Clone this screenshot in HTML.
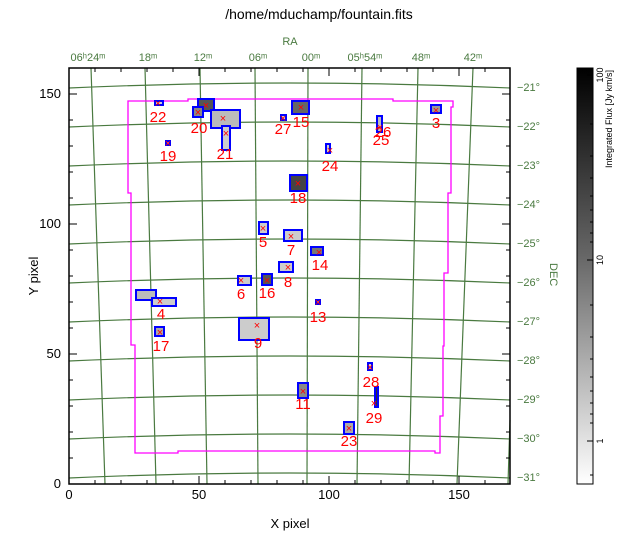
<!DOCTYPE html>
<html><head><meta charset="utf-8"><style>
body{margin:0;background:#fff;}
svg text{font-family:"Liberation Sans",sans-serif;}
</style></head><body>
<svg width="639" height="553" viewBox="0 0 639 553" xmlns="http://www.w3.org/2000/svg">
<defs>
<linearGradient id="cb" x1="0" y1="0" x2="0" y2="1">
<stop offset="0" stop-color="#000"/><stop offset="0.45" stop-color="#666"/><stop offset="1" stop-color="#fff"/>
</linearGradient>
</defs>
<rect width="639" height="553" fill="#fff"/>
<text x="319" y="19" font-size="14" text-anchor="middle">/home/mduchamp/fountain.fits</text>
<text x="290" y="45" font-size="11" fill="#4a7a40" text-anchor="middle">RA</text>
<g fill="#4a7a40" font-size="11" text-anchor="middle">
<text x="88" y="61">06ʰ24ᵐ</text><text x="148" y="61">18ᵐ</text><text x="203" y="61">12ᵐ</text><text x="258" y="61">06ᵐ</text><text x="311" y="61">00ᵐ</text><text x="365" y="61">05ʰ54ᵐ</text><text x="421" y="61">48ᵐ</text><text x="473" y="61">42ᵐ</text>
</g>
<g fill="#4a7a40" font-size="11">
<text x="517" y="91">−21°</text><text x="517" y="130">−22°</text><text x="517" y="169">−23°</text><text x="517" y="208">−24°</text><text x="517" y="247">−25°</text><text x="517" y="286">−26°</text><text x="517" y="325">−27°</text><text x="517" y="364">−28°</text><text x="517" y="403">−29°</text><text x="517" y="442">−30°</text><text x="517" y="481">−31°</text>
</g>
<text font-size="11" fill="#4a7a40" transform="translate(550,263) rotate(90)">DEC</text>
<g stroke="#4a7a40" stroke-width="1.2" fill="none">
<path d="M69 88 Q290 78 510 88"/><path d="M69 127 Q290 117 510 127"/><path d="M69 166 Q290 156 510 166"/><path d="M69 205 Q290 195 510 205"/><path d="M69 244 Q290 234 510 244"/><path d="M69 283 Q290 273 510 283"/><path d="M69 322 Q290 312 510 322"/><path d="M69 361 Q290 351 510 361"/><path d="M69 400 Q290 390 510 400"/><path d="M69 439 Q290 429 510 439"/><path d="M69 478 Q290 468 510 478"/>
<path d="M91 68 L105 484"/><path d="M145 68 L156 484"/><path d="M200 68 L207 484"/><path d="M255 68 L258 484"/><path d="M308 68 L307 484"/><path d="M362 68 L357 484"/><path d="M418 68 L409 484"/><path d="M473 68 L457 484"/><path d="M510 420 L508 484"/>
</g>
<path d="M128 101 L188 101 L188 99 L393 99 L393 101 L453 101 L453 107 L451 107 L451 193 L448 193 L448 273 L444 273 L444 346 L443 346 L443 416 L440 416 L440 453 L435 453 L435 451 L178 451 L178 453 L135 453 L135 345 L131 345 L131 193 L128 193 Z" fill="none" stroke="#f0f" stroke-width="1.3"/>
<g stroke="#00f" stroke-width="2">
<rect x="155" y="101" width="8" height="4" fill="#ccc"/>
<rect x="198" y="99" width="16" height="12" fill="#555"/>
<rect x="193" y="107" width="10" height="10" fill="#888"/>
<rect x="211" y="110" width="29" height="18" fill="#bbb"/>
<rect x="222" y="126" width="8" height="24" fill="#ccc"/>
<rect x="166" y="141" width="4" height="4" fill="#ccc"/>
<rect x="281" y="115" width="5" height="5" fill="#ccc"/>
<rect x="292" y="101" width="17" height="13" fill="#666"/>
<rect x="326" y="144" width="4" height="9" fill="#ccc"/>
<rect x="290" y="175" width="17" height="16" fill="#444"/>
<rect x="377" y="116" width="5" height="16" fill="#bbb"/>
<rect x="431" y="105" width="10" height="8" fill="#999"/>
<rect x="259" y="222" width="9" height="12" fill="#ccc"/>
<rect x="284" y="230" width="18" height="11" fill="#ccc"/>
<rect x="311" y="247" width="12" height="8" fill="#777"/>
<rect x="279" y="262" width="14" height="10" fill="#ccc"/>
<rect x="238" y="276" width="13" height="9" fill="#ccc"/>
<rect x="262" y="274" width="10" height="11" fill="#555"/>
<rect x="136" y="290" width="20" height="10" fill="#bbb"/>
<rect x="152" y="298" width="24" height="8" fill="#ccc"/>
<rect x="316" y="300" width="4" height="4" fill="#ccc"/>
<rect x="155" y="327" width="9" height="9" fill="#aaa"/>
<rect x="239" y="318" width="30" height="22" fill="#ccc"/>
<rect x="298" y="383" width="10" height="15" fill="#888"/>
<rect x="368" y="363" width="4" height="7" fill="#ccc"/>
<rect x="375" y="387" width="3" height="20" fill="#333"/>
<rect x="344" y="422" width="10" height="12" fill="#aaa"/>
</g>
<g fill="#f00" font-size="11" text-anchor="middle">
<text x="158" y="107">×</text><text x="206" y="109">×</text><text x="198" y="116">×</text><text x="223" y="122">×</text><text x="226" y="137">×</text><text x="168" y="147">×</text><text x="283" y="122">×</text><text x="301" y="111">×</text><text x="330" y="154">×</text><text x="298" y="187">×</text><text x="380" y="131">×</text><text x="436" y="114">×</text>
<text x="263" y="232">×</text><text x="291" y="240">×</text><text x="319" y="256">×</text><text x="288" y="271">×</text><text x="241" y="284">×</text><text x="267" y="284">×</text><text x="160" y="305">×</text><text x="318" y="306">×</text><text x="160" y="336">×</text><text x="257" y="329">×</text><text x="303" y="395">×</text><text x="370" y="371">×</text><text x="374" y="407">×</text><text x="349" y="432">×</text>
</g>
<g fill="#f00" font-size="15" text-anchor="middle">
<text x="158" y="122">22</text><text x="199" y="133">20</text><text x="225" y="159">21</text><text x="168" y="161">19</text><text x="283" y="134">27</text><text x="301" y="127">15</text><text x="330" y="171">24</text><text x="298" y="203">18</text><text x="383" y="137">26</text><text x="381" y="145">25</text><text x="436" y="128">3</text>
<text x="263" y="247">5</text><text x="291" y="255">7</text><text x="320" y="270">14</text><text x="288" y="287">8</text><text x="241" y="299">6</text><text x="267" y="298">16</text><text x="161" y="319">4</text><text x="318" y="322">13</text><text x="161" y="351">17</text><text x="258" y="348">9</text><text x="303" y="409">11</text><text x="371" y="387">28</text><text x="374" y="423">29</text><text x="349" y="446">23</text>
</g>
<rect x="69" y="68" width="441" height="416" fill="none" stroke="#000" stroke-width="1.5"/>
<g stroke="#000" stroke-width="1">
<path d="M69 484v-8M95 484v-4M121 484v-4M147 484v-4M173 484v-4M199 484v-8M225 484v-4M251 484v-4M277 484v-4M303 484v-4M329 484v-8M355 484v-4M381 484v-4M407 484v-4M433 484v-4M459 484v-8M485 484v-4"/>
<path d="M69 68v8M95 68v4M121 68v4M147 68v4M173 68v4M199 68v8M225 68v4M251 68v4M277 68v4M303 68v4M329 68v8M355 68v4M381 68v4M407 68v4M433 68v4M459 68v8M485 68v4"/>
<path d="M69 484h8M69 458h4M69 432h4M69 406h4M69 380h4M69 354h8M69 328h4M69 302h4M69 276h4M69 250h4M69 224h8M69 198h4M69 172h4M69 146h4M69 120h4M69 94h8M69 68h4"/>
<path d="M510 484h-8M510 458h-4M510 432h-4M510 406h-4M510 380h-4M510 354h-8M510 328h-4M510 302h-4M510 276h-4M510 250h-4M510 224h-8M510 198h-4M510 172h-4M510 146h-4M510 120h-4M510 94h-8M510 68h-4"/>
</g>
<g font-size="13" text-anchor="middle">
<text x="69" y="499">0</text><text x="199" y="499">50</text><text x="329" y="499">100</text><text x="459" y="499">150</text>
</g>
<g font-size="13" text-anchor="end">
<text x="61" y="488">0</text><text x="61" y="358">50</text><text x="61" y="228">100</text><text x="61" y="98">150</text>
</g>
<text x="290" y="528" font-size="13" text-anchor="middle">X pixel</text>
<text font-size="13" text-anchor="middle" transform="translate(38,276) rotate(-90)">Y pixel</text>
<rect x="577" y="68" width="16" height="416" fill="url(#cb)" stroke="#000" stroke-width="1"/>
<g stroke="#000">
<path d="M593 260h-6M593 441h-6M593 75h-6"/>
<path d="M593 124h-3M593 156h-3M593 178h-3M593 196h-3M593 210h-3M593 222h-3M593 233h-3M593 242h-3M593 305h-3M593 337h-3M593 359h-3M593 377h-3M593 391h-3M593 403h-3M593 414h-3M593 423h-3M593 475h-3"/>
</g>
<g font-size="9" text-anchor="middle">
<text transform="translate(603,441) rotate(-90)">1</text>
<text transform="translate(603,260) rotate(-90)">10</text>
<text transform="translate(603,75) rotate(-90)">100</text>
</g>
<text font-size="9" text-anchor="end" transform="translate(612,70) rotate(-90)">Integrated Flux [Jy km/s]</text>
</svg>
</body></html>
